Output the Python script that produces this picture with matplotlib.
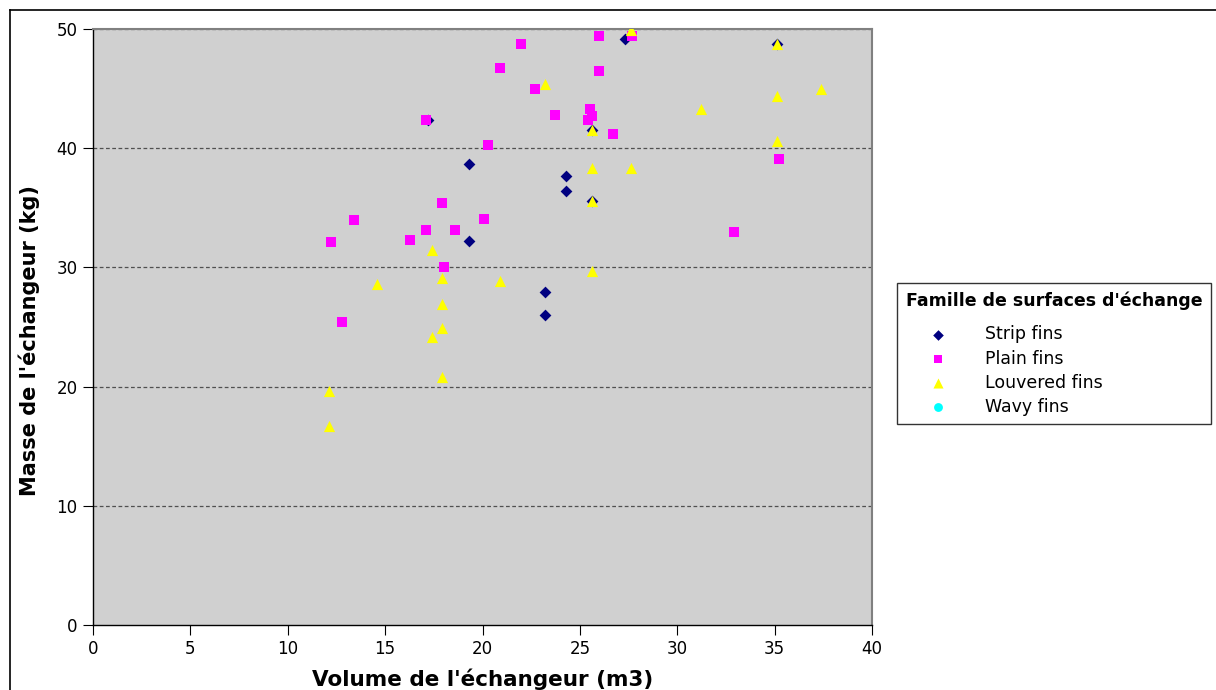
import matplotlib
matplotlib.use('Agg')
import matplotlib.pyplot as plt
from matplotlib.lines import Line2D

# Volume (m3) and mass (kg) per heat exchanger, by fin family
strip_vol = [17.2, 19.3, 19.3, 24.3, 24.3, 23.2, 23.2, 27.3, 25.6, 25.6, 35.1]
strip_mass = [42.4, 38.7, 32.2, 37.7, 36.4, 27.9, 26.0, 49.2, 41.5, 35.6, 48.7]

plain_vol = [17.1, 20.3, 20.9, 22.0, 22.7, 23.7, 26.0, 26.0, 25.5, 25.6, 25.4,
             26.7, 27.7, 35.2, 32.9, 17.9, 13.4, 17.1, 18.6, 20.1, 16.3, 12.2,
             18.0, 12.8]
plain_mass = [42.4, 40.3, 46.7, 48.7, 45.0, 42.8, 49.4, 46.5, 43.3, 42.7, 42.4,
              41.2, 49.4, 39.1, 33.0, 35.4, 34.0, 33.1, 33.1, 34.1, 32.3, 32.1,
              30.0, 25.4]

louvered_vol = [27.6, 23.2, 25.6, 25.6, 27.6, 25.6, 25.6, 35.1, 35.1, 37.4,
                31.2, 35.1, 17.4, 14.6, 17.9, 20.9, 17.9, 17.9, 17.4, 17.9,
                12.1, 12.1]
louvered_mass = [49.9, 45.4, 41.5, 38.3, 38.3, 35.6, 29.7, 48.7, 44.4, 45.0,
                 43.3, 40.6, 31.5, 28.6, 29.1, 28.9, 26.9, 24.9, 24.2, 20.8,
                 19.6, 16.7]

wavy_vol = []
wavy_mass = []

x_ticks = [0, 5, 10, 15, 20, 25, 30, 35, 40]
y_ticks = [0, 10, 20, 30, 40, 50]

W, H = 1216, 690
fig = plt.figure(figsize=(W / 100, H / 100), dpi=100)
ax = fig.add_axes([93 / W, 1 - 625 / H, (872 - 93) / W, (625 - 29) / H])
ax.set_facecolor('#d0d0d0')

# outer frame of the chart (cut at right and bottom)
fig.add_artist(Line2D([10 / W, 10 / W], [0, 1 - 10 / H], color='black', lw=1.2))
fig.add_artist(Line2D([10 / W, 1], [1 - 10 / H, 1 - 10 / H], color='black', lw=1.2))

for y in y_ticks[1:]:
    ax.axhline(y, color='#505050', lw=0.9, ls=(0, (3, 2)), zorder=1)

ax.scatter(strip_vol, strip_mass, marker='D', s=36, color='#000080',
           linewidths=0, zorder=3, label='Strip fins')
ax.scatter(plain_vol, plain_mass, marker='s', s=50, color='#ff00ff',
           linewidths=0, zorder=4, label='Plain fins')
ax.scatter(louvered_vol, louvered_mass, marker='^', s=65, color='#ffff00',
           linewidths=0, zorder=5, label='Louvered fins')
ax.scatter(wavy_vol, wavy_mass, marker='o', s=50, color='#00ffff',
           linewidths=0, zorder=5, label='Wavy fins')

ax.set_xlim(0, 40)
ax.set_ylim(0, 50)
ax.set_xticks(x_ticks)
ax.set_yticks(y_ticks)
ax.tick_params(axis='both', direction='out', length=7, width=0.8,
               labelsize=12, pad=4, color='black')

for side in ['left', 'bottom']:
    ax.spines[side].set_color('black')
    ax.spines[side].set_linewidth(1)
for side in ['right', 'top']:
    ax.spines[side].set_color('#808080')
    ax.spines[side].set_linewidth(1.5)

ax.set_xlabel("Volume de l'échangeur (m3)", fontsize=15.5, fontweight='bold', labelpad=7)
ax.set_ylabel("Masse de l'échangeur (kg)", fontsize=15, fontweight='bold')
ax.yaxis.set_label_coords(-0.068, 0.478)

leg = fig.legend(loc='upper left', bbox_to_anchor=(897 / W, 1 - 283 / H),
                 title="Famille de surfaces d'échange", fontsize=12.5,
                 title_fontproperties={'weight': 'bold', 'size': 12.5},
                 frameon=True, fancybox=False, edgecolor='black',
                 handletextpad=0.85, labelspacing=0.35, borderpad=0.5,
                 borderaxespad=0, handlelength=3.7, scatterpoints=1,
                 markerscale=0.9, alignment='left')
leg.get_frame().set_linewidth(1)
# extra room between the title and the entries
leg._legend_box.sep = 11

fig.savefig('out.png', dpi=100)
